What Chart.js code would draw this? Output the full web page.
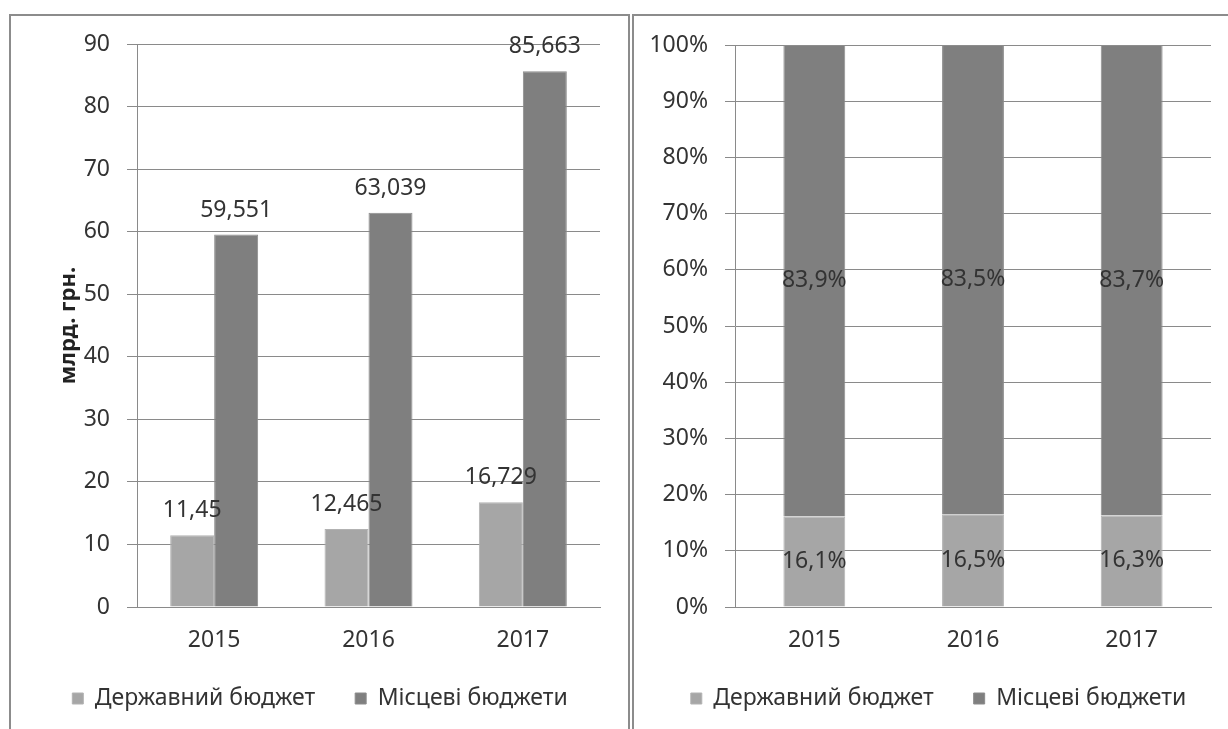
<!DOCTYPE html>
<html>
<head>
<meta charset="utf-8">
<script src="https://cdn.jsdelivr.net/npm/chart.js@4"></script>
<style>
  body { margin: 0; background: #fff; width: 1228px; height: 729px; overflow: hidden; position: relative; }
  .panel { position: absolute; top: 14px; height: 760px; border: 2px solid #8c8c8c; box-sizing: border-box; }
  #p1 { left: 9px; width: 621px; }
  #p2 { left: 632px; width: 620px; }
  canvas { position: absolute; top: 0; }
  #c1 { left: 0; }
  #c2 { left: 630px; }
</style>
</head>
<body>
<div class="panel" id="p1"></div>
<div class="panel" id="p2"></div>
<canvas id="c1" width="630" height="729"></canvas>
<canvas id="c2" width="598" height="729"></canvas>
<script>
  // data
  const years = ['2015', '2016', '2017']
  const seriesNames = ['Державний бюджет', 'Місцеві бюджети']
  const stateBudget = [11.45, 12.465, 16.729]      // млрд. грн.
  const localBudgets = [59.551, 63.039, 85.663]
  const stateShare = [16.1, 16.5, 16.3]             // %
  const localShare = [83.9, 83.5, 83.7]

  const lightGrey = '#a6a6a6'
  const darkGrey = '#7f7f7f'
  const gridGrey = '#8a8a8a'
  const textGrey = '#333333'
  const fontFamily = '"Noto Sans", sans-serif'
  const fontSize = 23

  Chart.defaults.font.family = fontFamily
  Chart.defaults.color = textGrey
  Chart.defaults.animation = false

  const comma = (v) => String(v).replace('.', ',')

  // value labels over / inside the bars
  const barLabels = {
    id: 'barLabels',
    afterDatasetDraw(chart, args, opts) {
      const ctx = chart.ctx
      const ds = chart.data.datasets[args.index]
      ctx.save()
      ctx.font = fontSize + 'px ' + fontFamily
      ctx.fillStyle = textGrey
      ctx.textAlign = 'center'
      args.meta.data.forEach((bar, i) => {
        const v = ds.data[i]
        if (opts.inside) {
          ctx.textBaseline = 'middle'
          ctx.fillText(comma(v) + '%', bar.x, (bar.y + bar.base) / 2)
        } else {
          ctx.textBaseline = 'bottom'
          ctx.fillText(comma(v), bar.x, bar.y - 13)
        }
      })
      ctx.restore()
    }
  }

  // nudge the legend, like in the original
  const legendShift = {
    id: 'legendShift',
    afterLayout(chart, args, opts) {
      const lg = chart.legend
      lg.left += opts.dx
      lg.right += opts.dx
      lg.top += opts.dy
      lg.bottom += opts.dy
    }
  }

  const legendOpts = {
    position: 'bottom',
    labels: {
      font: { size: fontSize },
      color: textGrey,
      boxWidth: 11,
      boxHeight: 11,
      padding: 40
    }
  }

  const xAxis = {
    grid: { display: false, drawOnChartArea: false, drawTicks: true, tickLength: 8, offset: true, color: gridGrey },
    border: { color: gridGrey },
    ticks: { font: { size: fontSize }, color: textGrey, padding: 12 },
    afterFit: (s) => { s.height = 49 }
  }

  // left: absolute values
  new Chart(document.getElementById('c1'), {
    type: 'bar',
    data: {
      labels: years,
      datasets: [
        { label: seriesNames[0], data: stateBudget, backgroundColor: lightGrey, borderColor: '#b2b2b2', borderWidth: 1 },
        { label: seriesNames[1], data: localBudgets, backgroundColor: darkGrey, borderColor: '#8c8c8c', borderWidth: 1 }
      ]
    },
    options: {
      responsive: false,
      layout: { padding: { top: 44, right: 30, bottom: 0, left: 0 } },
      categoryPercentage: 0.57,
      barPercentage: 1,
      plugins: {
        legend: legendOpts,
        tooltip: { enabled: false },
        barLabels: { inside: false },
        legendShift: { dx: 20, dy: -9 }
      },
      scales: {
        x: xAxis,
        y: {
          min: 0, max: 90,
          ticks: { stepSize: 10, font: { size: fontSize }, color: textGrey, padding: 17 },
          grid: { color: gridGrey, tickLength: 10 },
          border: { color: gridGrey },
          title: { display: true, text: 'млрд. грн.', font: { size: 22, weight: 'bold' }, color: '#222', padding: { top: 56, bottom: 0 } },
          afterFit: (s) => { s.width = 137 }
        }
      }
    },
    plugins: [barLabels, legendShift]
  })

  // right: shares, 100% stacked
  new Chart(document.getElementById('c2'), {
    type: 'bar',
    data: {
      labels: years,
      datasets: [
        { label: seriesNames[0], data: stateShare, backgroundColor: lightGrey, borderColor: '#b2b2b2', borderWidth: 1 },
        { label: seriesNames[1], data: localShare, backgroundColor: darkGrey, borderColor: '#8c8c8c', borderWidth: 1 }
      ]
    },
    options: {
      responsive: false,
      layout: { padding: { top: 45, right: 17, bottom: 0, left: 0 } },
      categoryPercentage: 0.39,
      barPercentage: 1,
      plugins: {
        legend: legendOpts,
        tooltip: { enabled: false },
        barLabels: { inside: true },
        legendShift: { dx: 18, dy: -9 }
      },
      scales: {
        x: Object.assign({}, xAxis, { stacked: true }),
        y: {
          stacked: true,
          min: 0, max: 100,
          ticks: { stepSize: 10, font: { size: fontSize }, color: textGrey, padding: 17, callback: (v) => v + '%' },
          grid: { color: gridGrey, tickLength: 10 },
          border: { color: gridGrey },
          afterFit: (s) => { s.width = 105 }
        }
      }
    },
    plugins: [barLabels, legendShift]
  })
</script>
</body>
</html>
